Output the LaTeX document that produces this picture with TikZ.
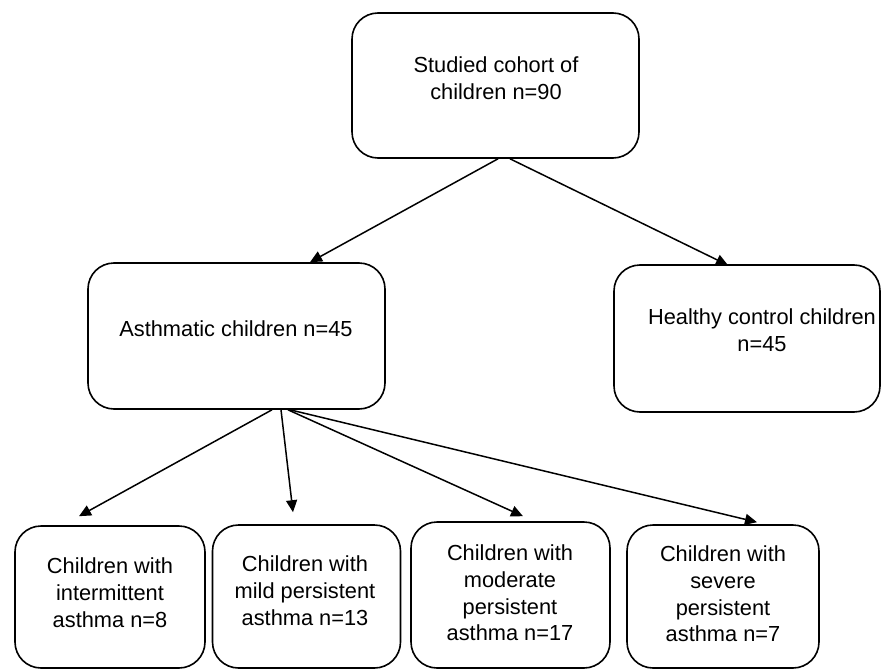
\documentclass[tikz,border=0pt]{standalone}
\usepackage{fontspec}
\setmainfont{Liberation Sans}
\usetikzlibrary{arrows.meta,calc}
\begin{document}
\begin{tikzpicture}[x=1pt,y=-1pt,
  box/.style={draw,line width=1.6pt,rounded corners=26pt,inner sep=0pt},
  lbl/.style={align=center,font=\fontsize{21.8}{26.8}\selectfont,inner sep=0pt},
  arr/.style={line width=1.5pt,-{Triangle[length=12pt,width=11pt]}}]
\useasboundingbox (0,0) rectangle (886,669);
% boxes
\node[box,minimum width=287pt,minimum height=145pt] (top) at (495.5,85.5) {};
\node[box,minimum width=297pt,minimum height=146pt] (asth) at (236.5,336) {};
\node[box,minimum width=266pt,minimum height=147pt] (heal) at (747,338.5) {};
\node[box,minimum width=190pt,minimum height=142pt] (b1) at (110,597) {};
\node[box,minimum width=188pt,minimum height=143pt] (b2) at (306.5,596.5) {};
\node[box,minimum width=199pt,minimum height=146pt] (b3) at (510.5,595) {};
\node[box,minimum width=192pt,minimum height=143pt] (b4) at (723,596.5) {};
% texts
\node[lbl] (ttop) at (496,78) {Studied cohort of\\children n=90};
\node[lbl] (tasth) at (236,329) {Asthmatic children n=45};
\node[lbl] (theal) at (762,330) {Healthy control children\\n=45};
\node[lbl] (tb1) at (110,593) {Children with\\intermittent\\asthma n=8};
\node[lbl] (tb2) at (305,591) {Children with\\mild persistent\\asthma n=13};
\node[lbl] (tb3) at (510,593) {Children with\\moderate\\persistent\\asthma n=17};
\node[lbl] (tb4) at (723,594) {Children with\\severe\\persistent\\asthma n=7};
% arrows
\draw[arr] ($(top.south)+(2.5,0)$) -- ($(asth.north)+(73.5,0)$);
\draw[arr] ($(top.south)+(14.5,0)$) -- ($(heal.north)+(-19,1)$);
\draw[arr] ($(asth.south)+(35.5,0)$) -- ($(b1.north)+(-31,-9)$);
\draw[arr] ($(asth.south)+(44.5,0)$) -- ($(b2.north)+(-13.5,-12)$);
\draw[arr] ($(asth.south)+(51.5,0)$) -- ($(b3.north)+(12.5,-5)$);
\draw[arr] ($(asth.south)+(53.5,0)$) -- ($(b4.north)+(34,-2)$);
\end{tikzpicture}
\end{document}
